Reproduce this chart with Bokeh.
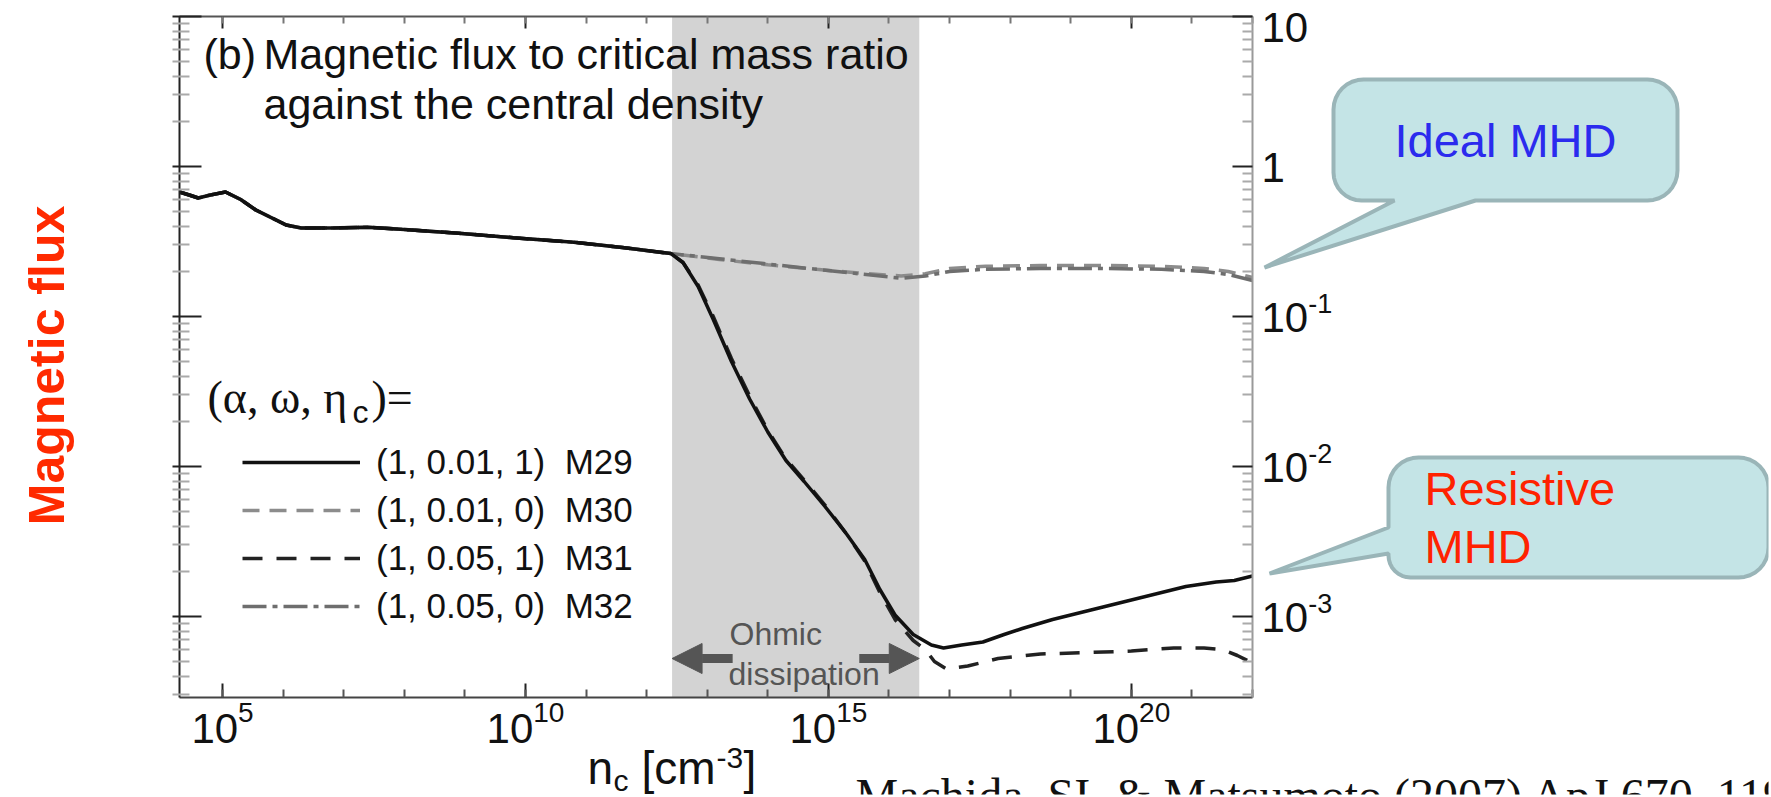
import math
from bokeh.plotting import figure
from bokeh.models import (Range1d, LogAxis, FixedTicker, Label, BoxAnnotation,
                          PolyAnnotation, Arrow, NormalHead, Legend, LegendItem,
                          CustomJSTickFormatter)
from bokeh.embed import file_html
from bokeh.resources import INLINE

# ---------------- data (log10 values) ----------------
# part shared by all four models (before the Ohmic branch point)
common_log_nc = [4.29, 4.45, 4.6, 4.8, 5.05, 5.3, 5.55, 5.8, 6.05, 6.3, 6.8,
                 7.4, 8.0, 8.9, 9.8, 10.8, 11.6, 12.4]
common_log_ratio = [-0.17, -0.19, -0.21, -0.19, -0.17, -0.22, -0.29, -0.34,
                    -0.39, -0.41, -0.41, -0.405, -0.42, -0.445, -0.475,
                    -0.505, -0.54, -0.58]
# ideal MHD branch (eta_c = 0)
ideal_log_nc = [13.2, 14.0, 14.8, 15.5, 16.2, 16.6, 17.0, 17.6, 18.5, 19.5,
                20.5, 21.2, 21.6, 22.0]
m30_log_ratio = [-0.62, -0.655, -0.685, -0.71, -0.73, -0.715, -0.68, -0.665,
                 -0.66, -0.66, -0.665, -0.68, -0.70, -0.74]
m32_log_ratio = [-0.615, -0.65, -0.685, -0.715, -0.745, -0.73, -0.70, -0.685,
                 -0.68, -0.68, -0.685, -0.70, -0.72, -0.76]
# resistive MHD branch (eta_c = 1)
m29_log_nc = [12.6, 12.85, 13.1, 13.4, 13.7, 14.0, 14.3, 14.6, 14.95, 15.3,
              15.6, 15.85, 16.1, 16.4, 16.7, 16.9, 17.2, 17.55, 17.9, 18.2,
              18.7, 19.3, 19.9, 20.4, 20.9, 21.4, 21.7, 22.0]
m29_log_ratio = [-0.64, -0.80, -1.02, -1.30, -1.55, -1.77, -1.96, -2.10,
                 -2.27, -2.45, -2.62, -2.82, -2.99, -3.12, -3.19, -3.21,
                 -3.19, -3.17, -3.12, -3.08, -3.02, -2.96, -2.90, -2.85,
                 -2.80, -2.77, -2.76, -2.73]
m31_log_nc = [12.6, 12.85, 13.1, 13.4, 13.7, 14.0, 14.3, 14.6, 14.95, 15.3,
              15.6, 15.85, 16.1, 16.4, 16.6, 16.75, 16.95, 17.3, 17.8, 18.5,
              19.3, 20.0, 20.7, 21.2, 21.5, 21.75, 22.0]
m31_log_ratio = [-0.64, -0.79, -1.00, -1.28, -1.53, -1.76, -1.95, -2.09,
                 -2.26, -2.45, -2.63, -2.84, -3.02, -3.16, -3.22, -3.30,
                 -3.35, -3.33, -3.28, -3.25, -3.24, -3.23, -3.21, -3.21,
                 -3.22, -3.26, -3.31]
ohmic_band_log_nc = [12.42, 16.5]
ohmic_arrow_tail_log_nc = [13.42, 15.51]
ohmic_arrow_log_ratio = -3.28

legend_labels = ["(1, 0.01, 1)\u00a0\u00a0M29", "(1, 0.01, 0)\u00a0\u00a0M30",
                 "(1, 0.05, 1)\u00a0\u00a0M31", "(1, 0.05, 0)\u00a0\u00a0M32"]
x_tick_exp = [5, 10, 15, 20]
x_minor_exp = list(range(5, 23))
y_tick_exp = [1, 0, -1, -2, -3]
y_tick_base = ["10", "1", "10", "10", "10"]
y_tick_sup = ["", "", "-1", "-2", "-3"]
x_box_log = (4.29, 22.0)      # extent of the plot box
y_box_log = (-3.54, 1.0)

# ---------------- geometry (page pixels) ----------------
W, H = 1771, 797
BL, BR, BT, BB = 179, 1252, 16, 697     # plot box on the page
CL, CR, CT, CB = 12, W - 3, 3, H - 3    # drawing frame (almost the whole page)
SANS = "Liberation Sans"
SERIF = "Liberation Serif"
KX = (x_box_log[1] - x_box_log[0]) / (BR - BL)
KY = (y_box_log[1] - y_box_log[0]) / (BB - BT)


def lx(X):
    return x_box_log[0] + (X - BL) * KX


def ly(Y):
    return y_box_log[1] - (Y - BT) * KY


def dx(X):
    return 10 ** lx(X)


def dy(Y):
    return 10 ** ly(Y)


def px_x(logx):
    return BL + (logx - x_box_log[0]) / KX


def px_y(logy):
    return BT + (y_box_log[1] - logy) / KY


p = figure(width=W, height=H, x_axis_type="log", y_axis_type="log",
           x_axis_location=None, y_axis_location=None,
           x_range=Range1d(dx(CL), dx(CR)), y_range=Range1d(dy(CB), dy(CT)),
           output_backend="svg", toolbar_location=None,
           min_border_left=CL, min_border_right=W - CR,
           min_border_top=CT, min_border_bottom=H - CB)
p.outline_line_color = None
p.grid.visible = False
p.background_fill_color = "white"
p.border_fill_color = "white"

blank = CustomJSTickFormatter(code="return ''")
xt = FixedTicker(ticks=[10.0 ** e for e in x_tick_exp],
                 minor_ticks=[10.0 ** e for e in x_minor_exp])
yminor = [m * 10.0 ** e for e in range(-4, 1) for m in range(2, 10)
          if y_box_log[0] < math.log10(m * 10.0 ** e) < y_box_log[1]]
yt = FixedTicker(ticks=[10.0 ** e for e in y_tick_exp], minor_ticks=yminor)
xb = (10 ** x_box_log[0], 10 ** x_box_log[1])
yb = (10 ** y_box_log[0], 10 ** y_box_log[1])


def make_axis(side, ticker, bounds, loc, line_color, tin, tout, min_in, min_out,
              minor_color):
    ax = LogAxis(ticker=ticker, formatter=blank, bounds=bounds, fixed_location=loc)
    ax.axis_line_color = line_color
    ax.axis_line_width = 2
    ax.major_tick_in = tin
    ax.major_tick_out = tout
    ax.minor_tick_in = min_in
    ax.minor_tick_out = min_out
    ax.major_tick_line_color = "#222222"
    ax.major_tick_line_width = 2
    ax.minor_tick_line_color = minor_color
    ax.minor_tick_line_width = 2
    ax.major_label_standoff = 0
    ax.major_label_text_font_size = "1px"
    p.add_layout(ax, side)


make_axis("below", xt, xb, yb[0], "#444444", 14, 0, 8, 0, "#555555")   # bottom
make_axis("above", xt, xb, yb[1], "#555555", 12, 0, 7, 0, "#777777")   # top
make_axis("left", yt, yb, xb[0], "#222222", 22, 7, 10, 7, "#aaaaaa")    # left
make_axis("right", yt, yb, xb[1], "#999999", 20, 0, 10, 0, "#aaaaaa")   # right

# Ohmic dissipation band
p.add_layout(BoxAnnotation(left=10 ** ohmic_band_log_nc[0], right=10 ** ohmic_band_log_nc[1],
                           bottom=yb[0], top=yb[1],
                           fill_color="#d3d3d3", fill_alpha=1.0, line_color=None,
                           level="underlay"))


def pts(v):
    return [10.0 ** a for a in v]


r30 = p.line(pts(common_log_nc + ideal_log_nc), pts(common_log_ratio + m30_log_ratio),
             line_color="#8c8c8c", line_width=3.5, line_dash="17 10")
r32 = p.line(pts(common_log_nc + ideal_log_nc), pts(common_log_ratio + m32_log_ratio),
             line_color="#6e6e6e", line_width=3.5, line_dash="24 6 5 6")
r31 = p.line(pts(common_log_nc + m31_log_nc), pts(common_log_ratio + m31_log_ratio),
             line_color="#222222", line_width=3.5, line_dash="20 14")
r29 = p.line(pts(common_log_nc + m29_log_nc), pts(common_log_ratio + m29_log_ratio),
             line_color="#111111", line_width=3.5)

legend = Legend(items=[LegendItem(label=legend_labels[0], renderers=[r29]),
                       LegendItem(label=legend_labels[1], renderers=[r30]),
                       LegendItem(label=legend_labels[2], renderers=[r31]),
                       LegendItem(label=legend_labels[3], renderers=[r32])],
                location=(242 - CL, CB - 626), glyph_width=118, glyph_height=40,
                label_height=40, label_standoff=16, spacing=8, padding=0, margin=0,
                border_line_color=None, background_fill_alpha=0,
                label_text_font=SANS, label_text_font_size="35px",
                label_text_color="#111111")
p.add_layout(legend)

ASC_DESC = {SANS: (0.905 - 0.212) / 2, SERIF: (0.891 - 0.216) / 2}


def lab(X, Y, text, size, font=SANS, color="#111111", align="left",
        style_="normal", angle=0.0, middle=False):
    # Y is the text baseline unless middle=True (then it is the text centre)
    yc = Y if middle else Y - ASC_DESC[font] * size
    p.add_layout(Label(x=dx(X), y=dy(yc), text=text, text_font=font,
                       text_font_size=f"{size}px", text_color=color,
                       text_align=align, text_baseline="middle",
                       text_font_style=style_, angle=angle))


# panel title
lab(203, 68, "(b)", 43)
lab(263, 68, "Magnetic flux to critical mass ratio", 43)
lab(263, 118, "against the central density", 43)

# legend title (alpha, omega, eta_c)=
lab(207, 413, "(\u03b1, \u03c9, \u03b7", 46, font=SERIF)
lab(352, 423, "c", 32)
lab(371, 413, ")=", 46, font=SERIF)

# Ohmic dissipation
lab(729, 645, "Ohmic", 32, color="#555555")
lab(728, 685, "dissipation", 32, color="#555555")
for k in range(2):
    p.add_layout(Arrow(end=NormalHead(size=30, fill_color="#555555", line_color="#555555",
                                      line_width=1),
                       x_start=10 ** ohmic_arrow_tail_log_nc[k], y_start=10 ** ohmic_arrow_log_ratio,
                       x_end=10 ** ohmic_band_log_nc[k], y_end=10 ** ohmic_arrow_log_ratio,
                       line_color="#555555", line_width=9))

# bottom tick labels 10^n
BASE, SUP = 42, 28
for e in x_tick_exp:
    sup = str(e)
    wb = 1.112 * BASE
    ws = 0.556 * SUP * len(sup)
    x0 = px_x(e) - (wb + ws) / 2
    lab(x0, 743, "10", BASE)
    lab(x0 + wb, 722, sup, SUP)

# right tick labels
for e, b, s in zip(y_tick_exp, y_tick_base, y_tick_sup):
    ty = max(px_y(e), BT + 10)
    lab(1261, ty + 16, b, BASE)
    if s:
        lab(1261 + 1.112 * BASE, ty - 4, s, SUP - 1)

# x axis label n_c [cm^-3]
lab(587, 783, "n", 46)
lab(613, 790, "c", 30)
lab(641, 783, "[cm", 46)
lab(716, 768, "-3", 30)
lab(743, 783, "]", 46)

# y label
lab(46, 365, "Magnetic flux", 50, color="#ff2a00", align="center",
    style_="bold", angle=math.pi / 2, middle=True)

# citation (cut by the page edge)
lab(855, 811, "Machida, SI, & Matsumoto (2007) ApJ 670, 1198", 48, font=SERIF)


# callouts
def arc(cx, cy, r, a0, a1, n=8):
    return [(cx + r * math.cos(math.radians(a0 + (a1 - a0) * i / n)),
             cy + r * math.sin(math.radians(a0 + (a1 - a0) * i / n))) for i in range(n + 1)]


def callout(x0, y0, x1, y1, r, rbl, tail, where):
    path = []
    path += arc(x0 + r, y0 + r, r, 180, 270)
    path += arc(x1 - r, y0 + r, r, 270, 360)
    path += arc(x1 - r, y1 - r, r, 0, 90)
    if where == "bottom":
        path += tail
    path += arc(x0 + rbl, y1 - rbl, rbl, 90, 180)
    if where == "left":
        path += tail
    xs = [dx(a) for a, b in path]
    ys = [dy(b) for a, b in path]
    p.add_layout(PolyAnnotation(xs=xs, ys=ys, fill_color="#c4e4e6", fill_alpha=1.0,
                                line_color="#9ab5b8", line_alpha=1.0, line_width=4))


callout(1333, 79, 1677, 200, 30, 28, [(1475, 200), (1264, 267), (1394, 200)], "bottom")
callout(1388, 457, 1768, 577, 30, 22, [(1388, 553), (1269, 573), (1388, 527)], "left")

lab(1505, 156, "Ideal MHD", 47, color="#2b2bee", align="center")
lab(1424, 504, "Resistive", 47, color="#ff2200")
lab(1424, 562, "MHD", 47, color="#ff2200")

open("out.html", "w").write(file_html(p, INLINE))
